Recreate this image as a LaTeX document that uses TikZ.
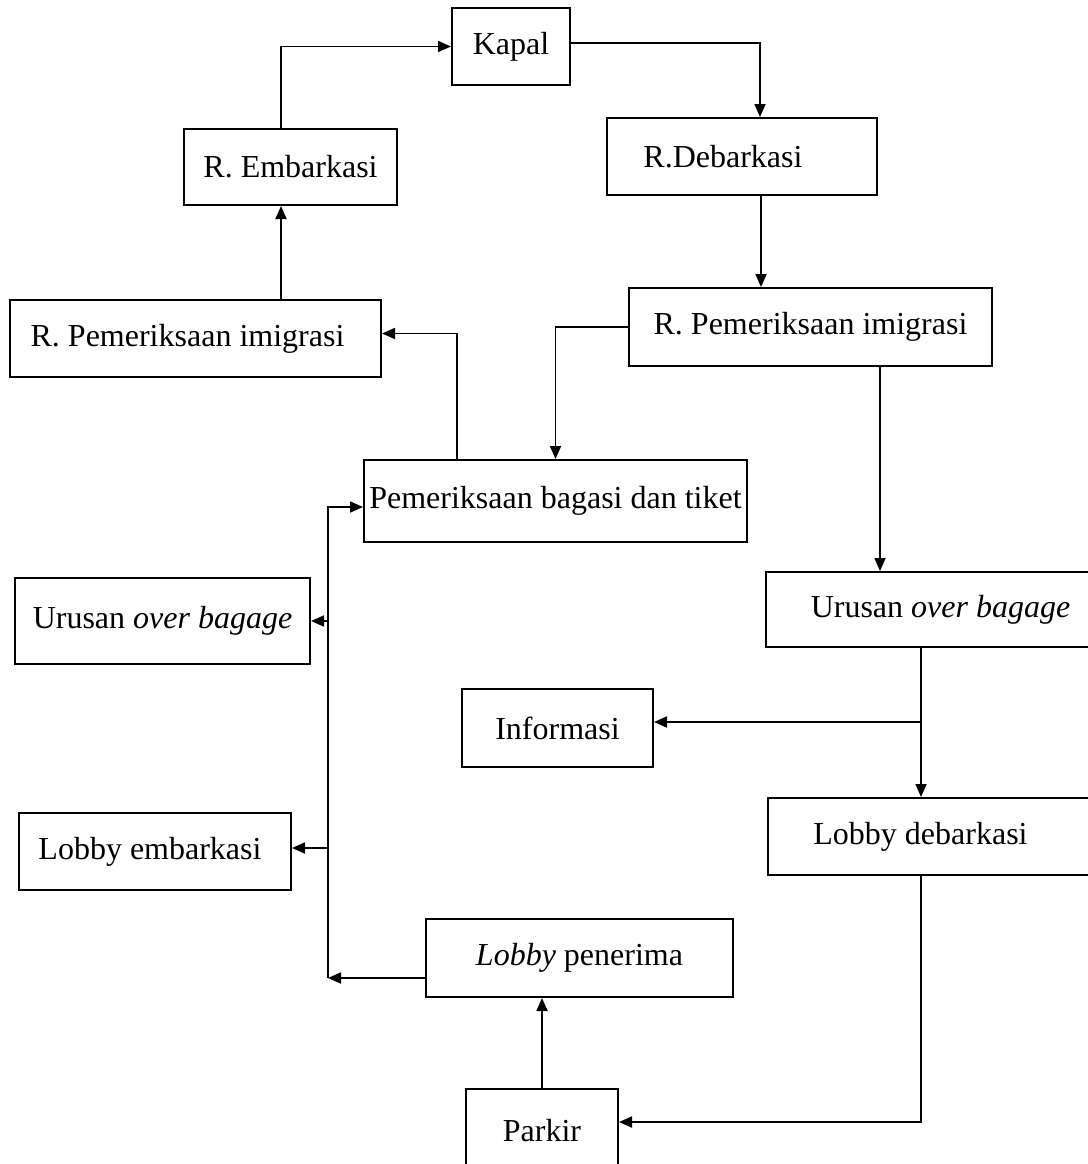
\documentclass[tikz,border=0pt]{standalone}
\usepackage{fontspec}
\setmainfont{Liberation Serif}
\usetikzlibrary{arrows.meta}

\tikzset{
  box/.style={draw, line width=2pt, rectangle, inner sep=0pt,
    font=\fontsize{32}{37}\selectfont},
  arr/.style={line width=1.8pt, -{Triangle[length=13pt,width=11pt]}}
}

\begin{document}
\begin{tikzpicture}[x=1pt,y=-1pt]
\useasboundingbox (0,0) rectangle (1087,1164);

% boxes
\node[box, minimum width=118pt, minimum height=77pt] (kapal) at (511,46.5) {Kapal};
\node[box, minimum width=213pt, minimum height=76pt] (emb) at (290.5,167) {R. Embarkasi};
\node[box, minimum width=270pt, minimum height=77pt] (deb) at (742,156.5) {R.Debarkasi\hspace*{38pt}};
\node[box, minimum width=371pt, minimum height=77pt] (imL) at (195.5,338.5) {R. Pemeriksaan imigrasi\hspace*{16pt}};
\node[box, minimum width=363pt, minimum height=78pt] (imR) at (810.5,327) {R. Pemeriksaan imigrasi};
\node[box, minimum width=383pt, minimum height=82pt] (bag) at (555.5,501) {Pemeriksaan bagasi dan tiket};
\node[box, minimum width=295pt, minimum height=86pt] (urL) at (162.5,621) {Urusan \textit{over bagage}};
\node[box, minimum width=329pt, minimum height=75pt] (urR) at (930.5,609.5) {\hspace*{20pt}Urusan \textit{over bagage}};
\node[box, minimum width=191pt, minimum height=78pt] (info) at (557.5,728) {Informasi};
\node[box, minimum width=327pt, minimum height=77pt] (lobD) at (931.5,836.5) {Lobby debarkasi\hspace*{22pt}};
\node[box, minimum width=272pt, minimum height=77pt] (lobE) at (155,851.5) {Lobby embarkasi\hspace*{10pt}};
\node[box, minimum width=307pt, minimum height=78pt] (lobP) at (579.5,958) {\textit{Lobby} penerima};
\node[box, minimum width=152pt, minimum height=83pt] (park) at (542,1130.5) {Parkir};

% attachment points off the node centres
\coordinate (lobEin) at ([yshift=3.5pt]lobE.east);
\coordinate (busB) at (328,978);

% departure route
\draw[arr] ([xshift=-9.5pt]emb.north) |- (kapal.west);
\draw[arr] ([xshift=-9.5pt]emb.south |- imL.north) -- ([xshift=-9.5pt]emb.south);
\draw[arr] ([xshift=-98.5pt]bag.north) |- ([yshift=5pt]imL.east);

% arrival route
\draw[arr] ([yshift=3.5pt]kapal.east) -| ([xshift=18pt]deb.north);
\draw[arr] ([xshift=19pt]deb.south) -- ([xshift=19pt]deb.south |- imR.north);
\draw[arr] (imR.west) -| (bag.north);
\draw[arr] ([xshift=69.5pt]imR.south) -- ([xshift=69.5pt]imR.south |- urR.north);
\draw[arr] ([xshift=-9.5pt]urR.south) -- ([xshift=-9.5pt]urR.south |- lobD.north);
\coordinate (br) at ([xshift=-9.5pt,yshift=6pt]urR.south |- info.east);
\draw[arr] (br) -- (br -| info.east);
\draw[arr] ([xshift=-10.5pt]lobD.south) |- ([yshift=8.5pt]park.east);
\draw[arr] (park.north) -- (park.north |- lobP.south);

% collecting line on the left
\draw[arr] ([yshift=-20pt]lobP.west) -- (busB);
\draw[arr] (busB) |- ([yshift=-6pt]bag.west);
\draw[arr] (busB |- urL.east) -- (urL.east);
\draw[arr] (busB |- lobEin) -- (lobEin);
\end{tikzpicture}
\end{document}
